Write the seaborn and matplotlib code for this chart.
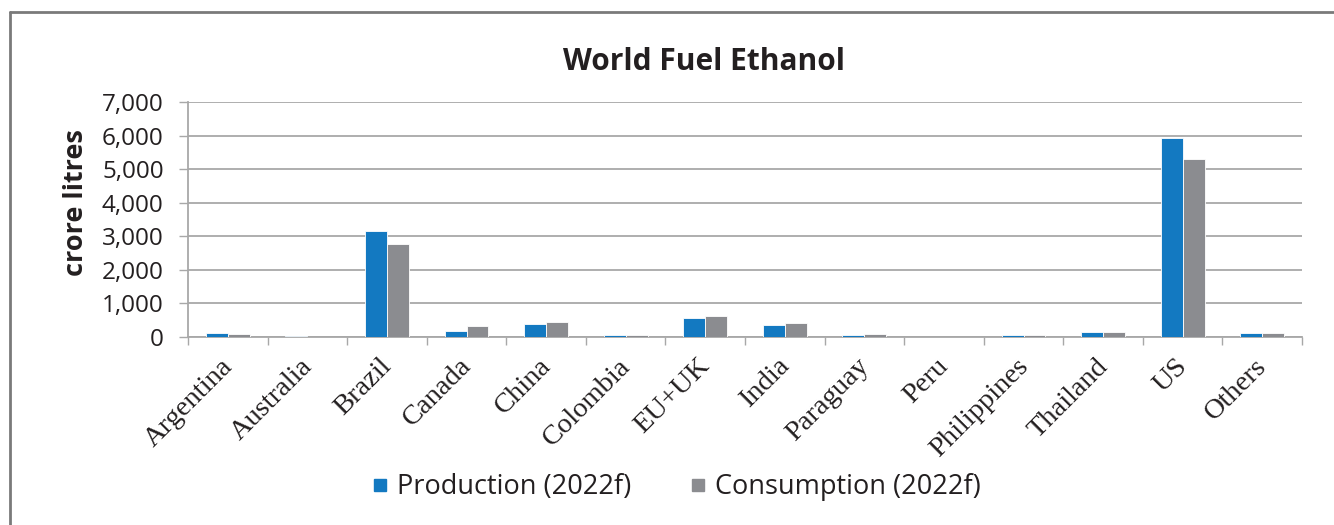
import numpy as np
import pandas as pd
import matplotlib
matplotlib.use("Agg")
import matplotlib.pyplot as plt
from matplotlib.lines import Line2D
from matplotlib.ticker import FuncFormatter
import matplotlib.transforms as mtransforms
import seaborn as sns

# Fuel ethanol, crore litres
countries = ["Argentina", "Australia", "Brazil", "Canada", "China", "Colombia",
             "EU+UK", "India", "Paraguay", "Peru", "Philippines", "Thailand",
             "US", "Others"]
production = [110, 20, 3150, 190, 390, 50, 580, 370, 50, 10, 50, 150, 5935, 110]
consumption = [100, 10, 2760, 320, 450, 60, 620, 410, 90, 5, 60, 150, 5310, 130]
series_names = ["Production (2022f)", "Consumption (2022f)"]
y_ticks = [0, 1000, 2000, 3000, 4000, 5000, 6000, 7000]

BLUE = "#1379C1"
GREY = "#8B8C90"
AXIS_GREY = "#A8A8A8"
TEXT = "#231F20"

df = pd.DataFrame({
    "country": countries * 2,
    "value": production + consumption,
    "series": [series_names[0]] * len(countries) + [series_names[1]] * len(countries),
})

sns.set_theme(style="white")
plt.rcParams["font.family"] = ["Open Sans", "DejaVu Sans"]

W, H = 1334, 525
fig = plt.figure(figsize=(W / 100, H / 100), dpi=100)
ax = fig.add_axes([188 / W, 1 - 337 / H, (1302 - 188) / W, (337 - 102) / H])

sns.barplot(data=df, x="country", y="value", hue="series", order=countries,
            hue_order=series_names, palette=[BLUE, GREY], saturation=1,
            width=0.55, edgecolor="white", linewidth=0.6, ax=ax, legend=False,
            zorder=3)

ax.set_xlim(-0.5, len(countries) - 0.5)
ax.set_ylim(0, 7000)
ax.set_yticks(y_ticks)
ax.yaxis.set_major_formatter(FuncFormatter(lambda v, p: f"{int(v):,}"))
ax.grid(axis="y", color=AXIS_GREY, linewidth=1.3, zorder=0)
ax.grid(axis="x", visible=False)
ax.set_axisbelow(True)

for side in ["top", "right"]:
    ax.spines[side].set_visible(False)
for side in ["left", "bottom"]:
    ax.spines[side].set_color(AXIS_GREY)
    ax.spines[side].set_linewidth(1.3)

ax.tick_params(axis="y", which="major", length=6.5, width=1.0, color=AXIS_GREY,
               direction="out", pad=11, labelsize=17.5, labelcolor=TEXT, left=True)

# Category boundaries carry the tick marks; labels sit at the category centres
ax.set_xticks(np.arange(-0.5, len(countries), 1.0), minor=True)
ax.tick_params(axis="x", which="minor", length=6, width=1.0, color=AXIS_GREY,
               direction="out", bottom=True)
ax.tick_params(axis="x", which="major", length=0, pad=12)
ax.set_xticks(range(len(countries)))
ax.set_xticklabels(countries, rotation=45, ha="right", va="top",
                   rotation_mode="anchor", family=["Liberation Serif"],
                   fontsize=20.5, color=TEXT)
shift = mtransforms.ScaledTranslation(-8 / 100, 0, fig.dpi_scale_trans)
for lbl in ax.get_xticklabels():
    lbl.set_transform(lbl.get_transform() + shift)

ax.set_xlabel("")
ax.set_ylabel("crore litres", fontsize=19.5, fontweight="bold", color=TEXT)
ax.yaxis.set_label_coords((89 - 188) / (1302 - 188), (337 - 203) / (337 - 102))

fig.text(704 / W, 1 - 62 / H, "World Fuel Ethanol", ha="center", va="center",
         fontsize=21.5, fontweight="bold", color=TEXT)

handles = [Line2D([0], [0], marker="s", linestyle="none", markersize=9,
                  markerfacecolor=c, markeredgecolor=c) for c in (BLUE, GREY)]
fig.legend(handles, series_names, loc="center", bbox_to_anchor=(677 / W, 1 - 487 / H),
           ncol=2, frameon=False, fontsize=19.5, handlelength=0.55,
           handletextpad=0.35, columnspacing=2.2, labelcolor=TEXT)

# Chart frame
frame_kw = dict(color="#7A7A7A", linewidth=2.0, transform=fig.transFigure)
fig.add_artist(Line2D([10 / W, 1.0], [1 - 12 / H, 1 - 12 / H], **frame_kw))
fig.add_artist(Line2D([10 / W, 10 / W], [1 - 12 / H, 0.0], **frame_kw))

fig.savefig("out.png", dpi=100, facecolor="white")
